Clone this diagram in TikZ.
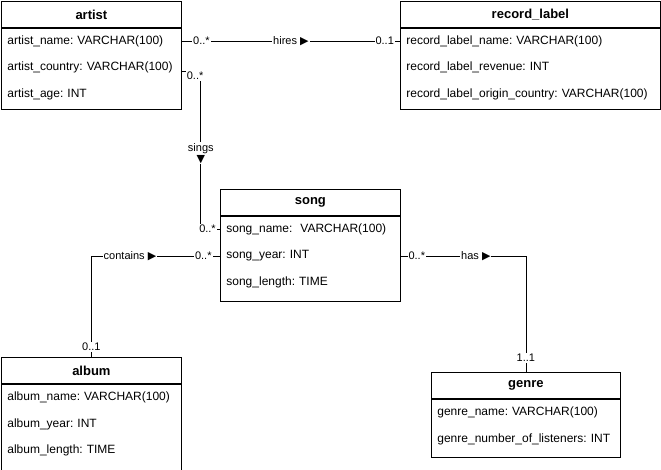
\documentclass[tikz,border=0pt]{standalone}
\usepackage{fontspec}
\setmainfont{Liberation Sans}
\newfontfamily\symfont{DejaVu Sans}
\usepackage{tikz}
\usetikzlibrary{positioning}
\frenchspacing

\newcommand{\rtri}{{\symfont\fontsize{11}{11}\selectfont ▶}}
\newcommand{\dtri}{{\symfont\fontsize{11}{11}\selectfont ▼}}

\begin{document}
\begin{tikzpicture}[x=1pt, y=-1pt, line width=0.8pt,
    head/.style={draw, anchor=north west, minimum height=26pt, inner sep=0pt, font=\fontsize{13}{15}\selectfont\bfseries},
    body/.style={draw, anchor=north west, inner sep=0pt},
    field/.style={anchor=north west, minimum height=26pt, inner xsep=6pt, inner ysep=0pt, text height=9pt, text depth=3pt, align=left, text width=#1, font=\fontsize{12}{14}\selectfont},
    field/.default=168pt,
    lab/.style={fill=white, inner sep=1pt, font=\fontsize{11}{13}\selectfont}]
    \useasboundingbox (0,0) rectangle (661,470);

    % artist
    \node[head, minimum width=180pt] (artist) at (1,1) {artist};
    \node[body, minimum width=180pt, minimum height=81pt] at (artist.south west) {};
    \node[field] (aname) at (artist.south west) {artist\_name: VARCHAR(100)};
    \node[field, below=0pt of aname] (acountry) {artist\_country: VARCHAR(100)};
    \node[field, below=0pt of acountry] (aage) {artist\_age: INT};

    % record_label
    \node[head, minimum width=260pt] (rlabel) at (400,1) {record\_label};
    \node[body, minimum width=260pt, minimum height=81pt] at (rlabel.south west) {};
    \node[field=248pt] (rlname) at (rlabel.south west) {record\_label\_name: VARCHAR(100)};
    \node[field=248pt, below=0pt of rlname] (rlrevenue) {record\_label\_revenue: INT};
    \node[field=248pt, below=0pt of rlrevenue] (rlorigin) {record\_label\_origin\_country: VARCHAR(100)};

    % song
    \node[head, minimum width=180pt] (song) at (220,189) {song};
    \node[body, minimum width=180pt, minimum height=85pt] at (song.south west) {};
    \node[field] (sname) at (song.south west) {song\_name: \ VARCHAR(100)};
    \node[field, below=0pt of sname] (syear) {song\_year: INT};
    \node[field, below=0pt of syear] (slength) {song\_length: TIME};

    % album
    \node[head, minimum width=180pt] (album) at (1,357) {album};
    \node[body, minimum width=180pt, minimum height=86pt] at (album.south west) {};
    \node[field] (alname) at (album.south west) {album\_name: VARCHAR(100)};
    \node[field, below=0pt of alname] (alyear) {album\_year: INT};
    \node[field, below=0pt of alyear] (allength) {album\_length: TIME};

    % genre
    \node[head, minimum width=189pt] (genre) at (431,372) {genre};
    \node[body, minimum width=189pt, minimum height=58pt] at (genre.south west) {};
    \node[field=177pt] (gname) at (genre.south west) {genre\_name: VARCHAR(100)};
    \node[field=177pt, below=0pt of gname] (glisteners) {genre\_number\_of\_listeners: INT};

    % relations
    \draw (aname.east) -- node[lab, pos=0.09] {0..*} node[lab] {hires \rtri} node[lab, pos=0.93] {0..1} (rlname.west);
    \draw ([yshift=-3pt]acountry.east) -- node[lab, pos=0.7, yshift=-5pt] {0..*} ++(19,0)
        |- node[lab, pos=0.26, align=center] {sings\\[-2pt]\dtri} node[lab, pos=0.675] {0..*} (sname.west);
    \draw (syear.west) -| node[lab, pos=0.065] {0..*} node[lab, pos=0.35] {contains \rtri} node[lab, pos=0.95] {0..1} (album.north);
    \draw (syear.east) -| node[lab, pos=0.064] {0..*} node[lab, pos=0.3] {has \rtri} node[lab, pos=0.94] {1..1} (genre.north);
\end{tikzpicture}
\end{document}
